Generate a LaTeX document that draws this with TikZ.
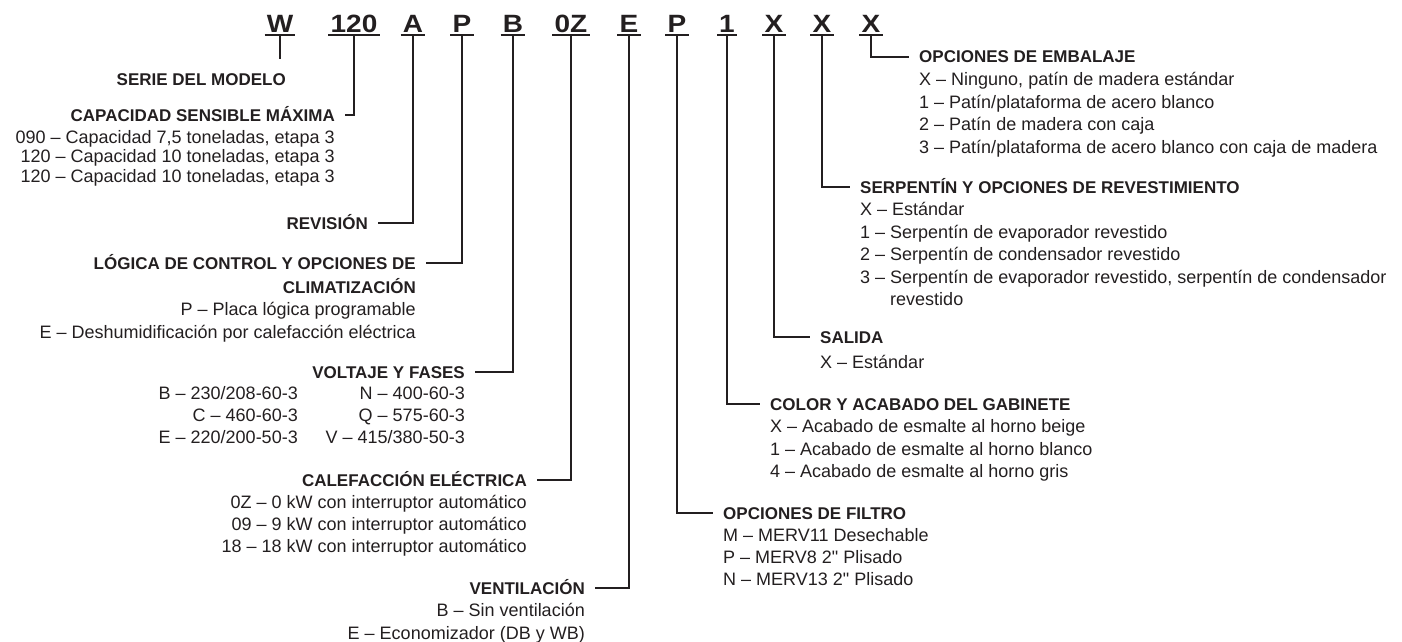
\documentclass[tikz,border=0pt]{standalone}
\usepackage{fontspec}
\setmainfont{Liberation Sans}
\newfontfamily\codefont[FakeStretch=1.12]{Liberation Sans}
\usepackage{tikz}
\definecolor{ink}{HTML}{231F20}

\begin{document}
\begin{tikzpicture}[x=1pt,y=-1pt,
  code/.style={font=\codefont\bfseries\fontsize{25}{25}\selectfont, text=ink,
    inner xsep=2pt, inner ysep=2pt, text height=18pt, text depth=0pt, anchor=base},
  headL/.style={font=\bfseries\fontsize{17}{17}\selectfont, text=ink,
    inner xsep=10pt, inner ysep=0pt, text height=12.4pt, text depth=0pt, anchor=base east},
  headR/.style={headL, anchor=base west},
  itemL/.style={font=\fontsize{18}{18}\selectfont, text=ink, inner sep=0pt, anchor=base east},
  itemR/.style={itemL, anchor=base west},
  link/.style={draw=ink, line width=2pt}]
\useasboundingbox (0,0) rectangle (1402,642);

% model code
\foreach \x/\t/\n in {280/W/w, 354/120/cap, 413/A/rev, 462/P/ctl, 513/B/volt, 571/0Z/heat,
    629/E/vent, 677/P/filt, 727/1/col, 774/X/out, 822/X/coil, 871/X/pack}
{
	\node[code] (c\n) at (\x,33) {\t};
	\draw[ink, line width=1.5pt] (c\n.south west) -- (c\n.south east);
}

% left side
\coordinate (tw) at (280,59);
\node[headL] (serie) at (296,85) {SERIE DEL MODELO};

\node[headL] (capac) at (345,121) {CAPACIDAD SENSIBLE MÁXIMA};
\foreach \t [count=\i] in {{090 – Capacidad 7,5 toneladas, etapa 3},
    {120 – Capacidad 10 toneladas, etapa 3}, {120 – Capacidad 10 toneladas, etapa 3}}
	\node[itemL] (capac\i) at (335,123.5+19.5*\i) {\t};

\node[headL] (rev) at (378,229) {REVISIÓN};

\node[headL] (ctl) at (426,269) {LÓGICA DE CONTROL Y OPCIONES DE};
\node[headL] (ctlB) at (426,293) {CLIMATIZACIÓN};
\foreach \t [count=\i] in {P – Placa lógica programable, E – Deshumidificación por calefacción eléctrica}
	\node[itemL] (ctl\i) at (416,293+22.5*\i) {\t};

\node[headL] (volt) at (475,378) {VOLTAJE Y FASES};
\foreach \t [count=\i] in {B – 230/208-60-3, C – 460-60-3, E – 220/200-50-3}
	\node[itemL] (voltA\i) at (298,377+22*\i) {\t};
\foreach \t [count=\i] in {N – 400-60-3, Q – 575-60-3, V – 415/380-50-3}
	\node[itemL] (voltB\i) at (465,377+22*\i) {\t};

\node[headL] (heat) at (537,486) {CALEFACCIÓN ELÉCTRICA};
\foreach \t [count=\i] in {0Z – 0 kW con interruptor automático, 09 – 9 kW con interruptor automático,
    18 – 18 kW con interruptor automático}
	\node[itemL] (heat\i) at (527,486+22.3*\i) {\t};

\node[headL] (vent) at (595,594) {VENTILACIÓN};
\foreach \t [count=\i] in {B – Sin ventilación, E – Economizador (DB y WB)}
	\node[itemL] (vent\i) at (585,594+22.5*\i) {\t};

% right side
\node[headR] (pack) at (909,63) {OPCIONES DE EMBALAJE};
\foreach \t [count=\i] in {{X – Ninguno, patín de madera estándar}, 1 – Patín/plataforma de acero blanco,
    2 – Patín de madera con caja, 3 – Patín/plataforma de acero blanco con caja de madera}
	\node[itemR] (pack\i) at (919,63+22.5*\i) {\t};

\node[headR] (coil) at (850,193) {SERPENTÍN Y OPCIONES DE REVESTIMIENTO};
\foreach \t [count=\i] in {X – Estándar, 1 – Serpentín de evaporador revestido,
    2 – Serpentín de condensador revestido,
    {3 – Serpentín de evaporador revestido, serpentín de condensador}, \phantom{3 – }revestido}
	\node[itemR] (coil\i) at (860,193+22.5*\i) {\t};

\node[headR] (out) at (810,343) {SALIDA};
\node[itemR] (out1) at (820,368) {X – Estándar};

\node[headR] (col) at (760,410) {COLOR Y ACABADO DEL GABINETE};
\foreach \t [count=\i] in {X – Acabado de esmalte al horno beige, 1 – Acabado de esmalte al horno blanco,
    4 – Acabado de esmalte al horno gris}
	\node[itemR] (col\i) at (770,410+22.5*\i) {\t};

\node[headR] (filt) at (713,519) {OPCIONES DE FILTRO};
\foreach \t [count=\i] in {M – MERV11 Desechable, P – MERV8 2\textquotedbl{} Plisado, N – MERV13 2\textquotedbl{} Plisado}
	\node[itemR] (filt\i) at (723,519+22*\i) {\t};

% connectors
\draw[link] (cw.south) -- (tw);
\draw[link] (ccap.south) |- (capac.east);
\draw[link] (crev.south) |- (rev.east);
\draw[link] (cctl.south) |- (ctl.east);
\draw[link] (cvolt.south) |- (volt.east);
\draw[link] (cheat.south) |- (heat.east);
\draw[link] (cvent.south) |- (vent.east);
\draw[link] (cfilt.south) |- (filt.west);
\draw[link] (ccol.south) |- (col.west);
\draw[link] (cout.south) |- (out.west);
\draw[link] (ccoil.south) |- (coil.west);
\draw[link] (cpack.south) |- (pack.west);
\end{tikzpicture}
\end{document}
